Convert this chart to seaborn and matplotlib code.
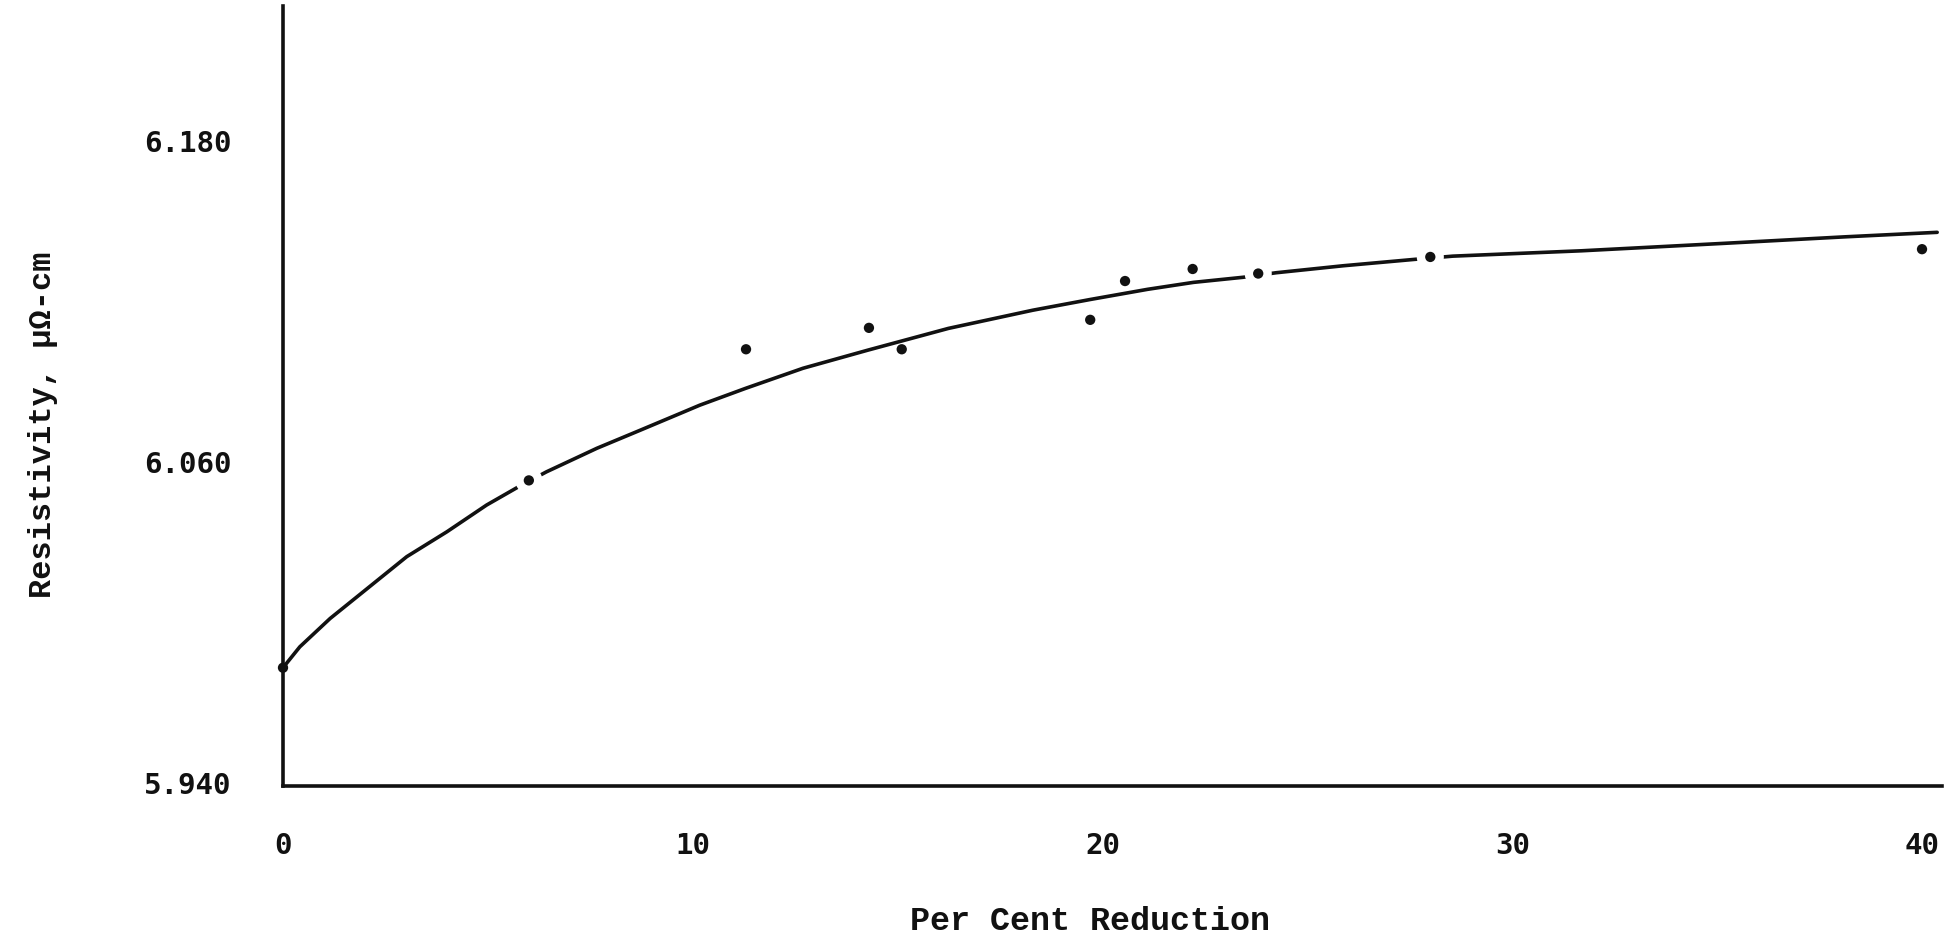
import matplotlib
matplotlib.use("Agg")
import matplotlib.pyplot as plt
import seaborn as sns
import pandas as pd

# Measured points: per cent reduction vs resistivity (micro-ohm-cm)
reduction = [0.0, 6.0, 11.3, 14.3, 15.1, 19.7, 20.55, 22.2, 23.8, 28.0, 40.0]
resistivity = [5.983, 6.053, 6.102, 6.110, 6.102, 6.113, 6.1275, 6.132, 6.1303, 6.1365, 6.1394]

# Hand-drawn smooth curve, read along its path
curve_x = [0.0, 0.41, 1.15, 1.96, 3.02, 4.00, 4.97, 5.78, 6.43, 7.66, 8.71, 9.69,
           10.17, 11.29, 12.69, 14.28, 16.24, 18.30, 19.70, 21.10, 22.22,
           23.43, 24.24, 25.87, 27.62, 28.55, 31.69, 35.19, 38.10, 40.37]
curve_y = [5.983, 5.9908, 6.0014, 6.0114, 6.0245, 6.0338, 6.0438, 6.0509, 6.0562, 6.0650, 6.0717, 6.0780,
           6.0811, 6.0874, 6.0949, 6.1017, 6.1098, 6.1166, 6.1206, 6.1244, 6.1270,
           6.1289, 6.1306, 6.1332, 6.1356, 6.1368, 6.1388, 6.1416, 6.1440, 6.1457]

x_ticks = [0, 10, 20, 30, 40]
y_ticks = [5.940, 6.060, 6.180]
y_tick_labels = ["5.940", "6.060", "6.180"]

x_label = "Per Cent Reduction"
y_label = "Resistivity, \u03bc\u03a9-cm"

# indices of points where the drawn curve is interrupted around the dot
gap_idx = [1, 8, 9]

pts = pd.DataFrame({"x": reduction, "y": resistivity})
crv = pd.DataFrame({"x": curve_x, "y": curve_y})
gaps = pts.iloc[gap_idx]

sns.set_theme(style="white")
plt.rcParams["font.family"] = ["DejaVu Sans Mono", "DejaVu Sans"]

ink = "#111111"
fig = plt.figure(figsize=(19.48, 9.41), dpi=100)
ax = fig.add_axes([283 / 1948, 1 - 786 / 941, 1659.5 / 1948, 779.8 / 941])

sns.lineplot(data=crv, x="x", y="y", ax=ax, color=ink, linewidth=2.6,
             estimator=None, sort=False, zorder=2)
sns.scatterplot(data=gaps, x="x", y="y", ax=ax, color="white", s=380,
                edgecolor="none", zorder=3)
sc = sns.scatterplot(data=pts, x="x", y="y", ax=ax, color=ink, s=55,
                     edgecolor="none", zorder=4, clip_on=False)

ax.set_xlim(0, 40.5)
ax.set_ylim(5.9388, 6.2302)

ax.set_xticks(x_ticks)
ax.set_xticklabels([str(t) for t in x_ticks])
ax.set_yticks(y_ticks)
ax.set_yticklabels(y_tick_labels)
ax.tick_params(axis="both", length=0, labelsize=21, colors=ink)
ax.tick_params(axis="y", pad=37)
ax.tick_params(axis="x", pad=33)
for lab in ax.get_xticklabels() + ax.get_yticklabels():
    lab.set_fontweight("bold")

for s in ["top", "right"]:
    ax.spines[s].set_visible(False)
for s in ["left", "bottom"]:
    ax.spines[s].set_color(ink)
    ax.spines[s].set_linewidth(2.6)

ax.set_xlabel(x_label, fontsize=24, fontweight="bold", family=["Liberation Mono", "DejaVu Sans Mono"], color=ink)
ax.set_ylabel(y_label, fontsize=23, fontweight="bold", family=["Liberation Mono", "DejaVu Sans Mono"], color=ink)
ax.xaxis.label.set_va("center")
ax.yaxis.label.set_va("center")
ax.xaxis.set_label_coords(0.486, -0.174)
ax.yaxis.set_label_coords(-0.1446, 0.463)

fig.savefig("out.png", dpi=100, facecolor="white")
